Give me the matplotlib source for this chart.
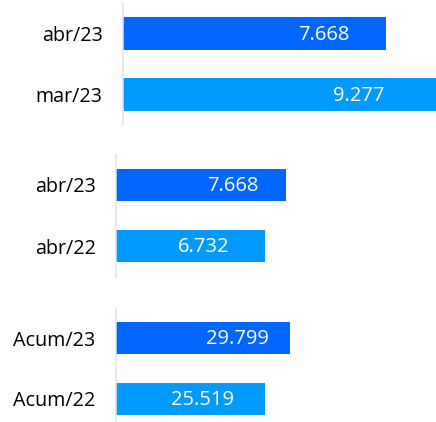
import matplotlib
matplotlib.use("Agg")
import matplotlib.pyplot as plt

plt.rcParams['font.family'] = ['Open Sans', 'DejaVu Sans']

# Data
p1_labels = ["abr/23", "mar/23"]
p1_values = [7668, 9277]
p1_texts = ["7.668", "9.277"]

p2_labels = ["abr/23", "abr/22"]
p2_values = [7668, 6732]
p2_texts = ["7.668", "6.732"]

p3_labels = ["Acum/23", "Acum/22"]
p3_values = [29799, 25519]
p3_texts = ["29.799", "25.519"]

colors = ["#0066FF", "#0099FF"]

W, H = 436, 422
fig = plt.figure(figsize=(W / 100, H / 100), dpi=100)


def panel(left, top, bottom, px_per_unit, labels, values, texts, text_gaps):
    ax = fig.add_axes([left / W, 1 - bottom / H, (W - left) / W, (bottom - top) / H])
    ax.set_xlim(0, (W - left) / px_per_unit)
    ax.set_ylim(1.5, -0.5)
    ax.barh(range(len(values)), values, height=0.54, color=colors, clip_on=True)
    for s in ["top", "right", "bottom"]:
        ax.spines[s].set_visible(False)
    ax.spines["left"].set_color("#e3e3e3")
    ax.spines["left"].set_linewidth(1.1)
    ax.set_xticks([])
    ax.set_yticks(range(len(labels)))
    ax.set_yticklabels(labels, fontsize=14.2, color="#000000")
    ax.tick_params(axis="y", length=0, pad=14.6)
    for i, (v, t, g) in enumerate(zip(values, texts, text_gaps)):
        ax.text(v - g / px_per_unit, i + 0.02, t, ha="right", va="center",
                color="white", fontsize=14.5)
    return ax


panel(123, 3, 125, 263 / 7668, p1_labels, p1_values, p1_texts, [37, 57])
panel(116, 154.5, 276.5, 170 / 7668, p2_labels, p2_values, p2_texts, [27, 36])
panel(116, 307.5, 429.5, 174 / 29799, p3_labels, p3_values, p3_texts, [21, 31])

fig.savefig("out.png", dpi=100)
